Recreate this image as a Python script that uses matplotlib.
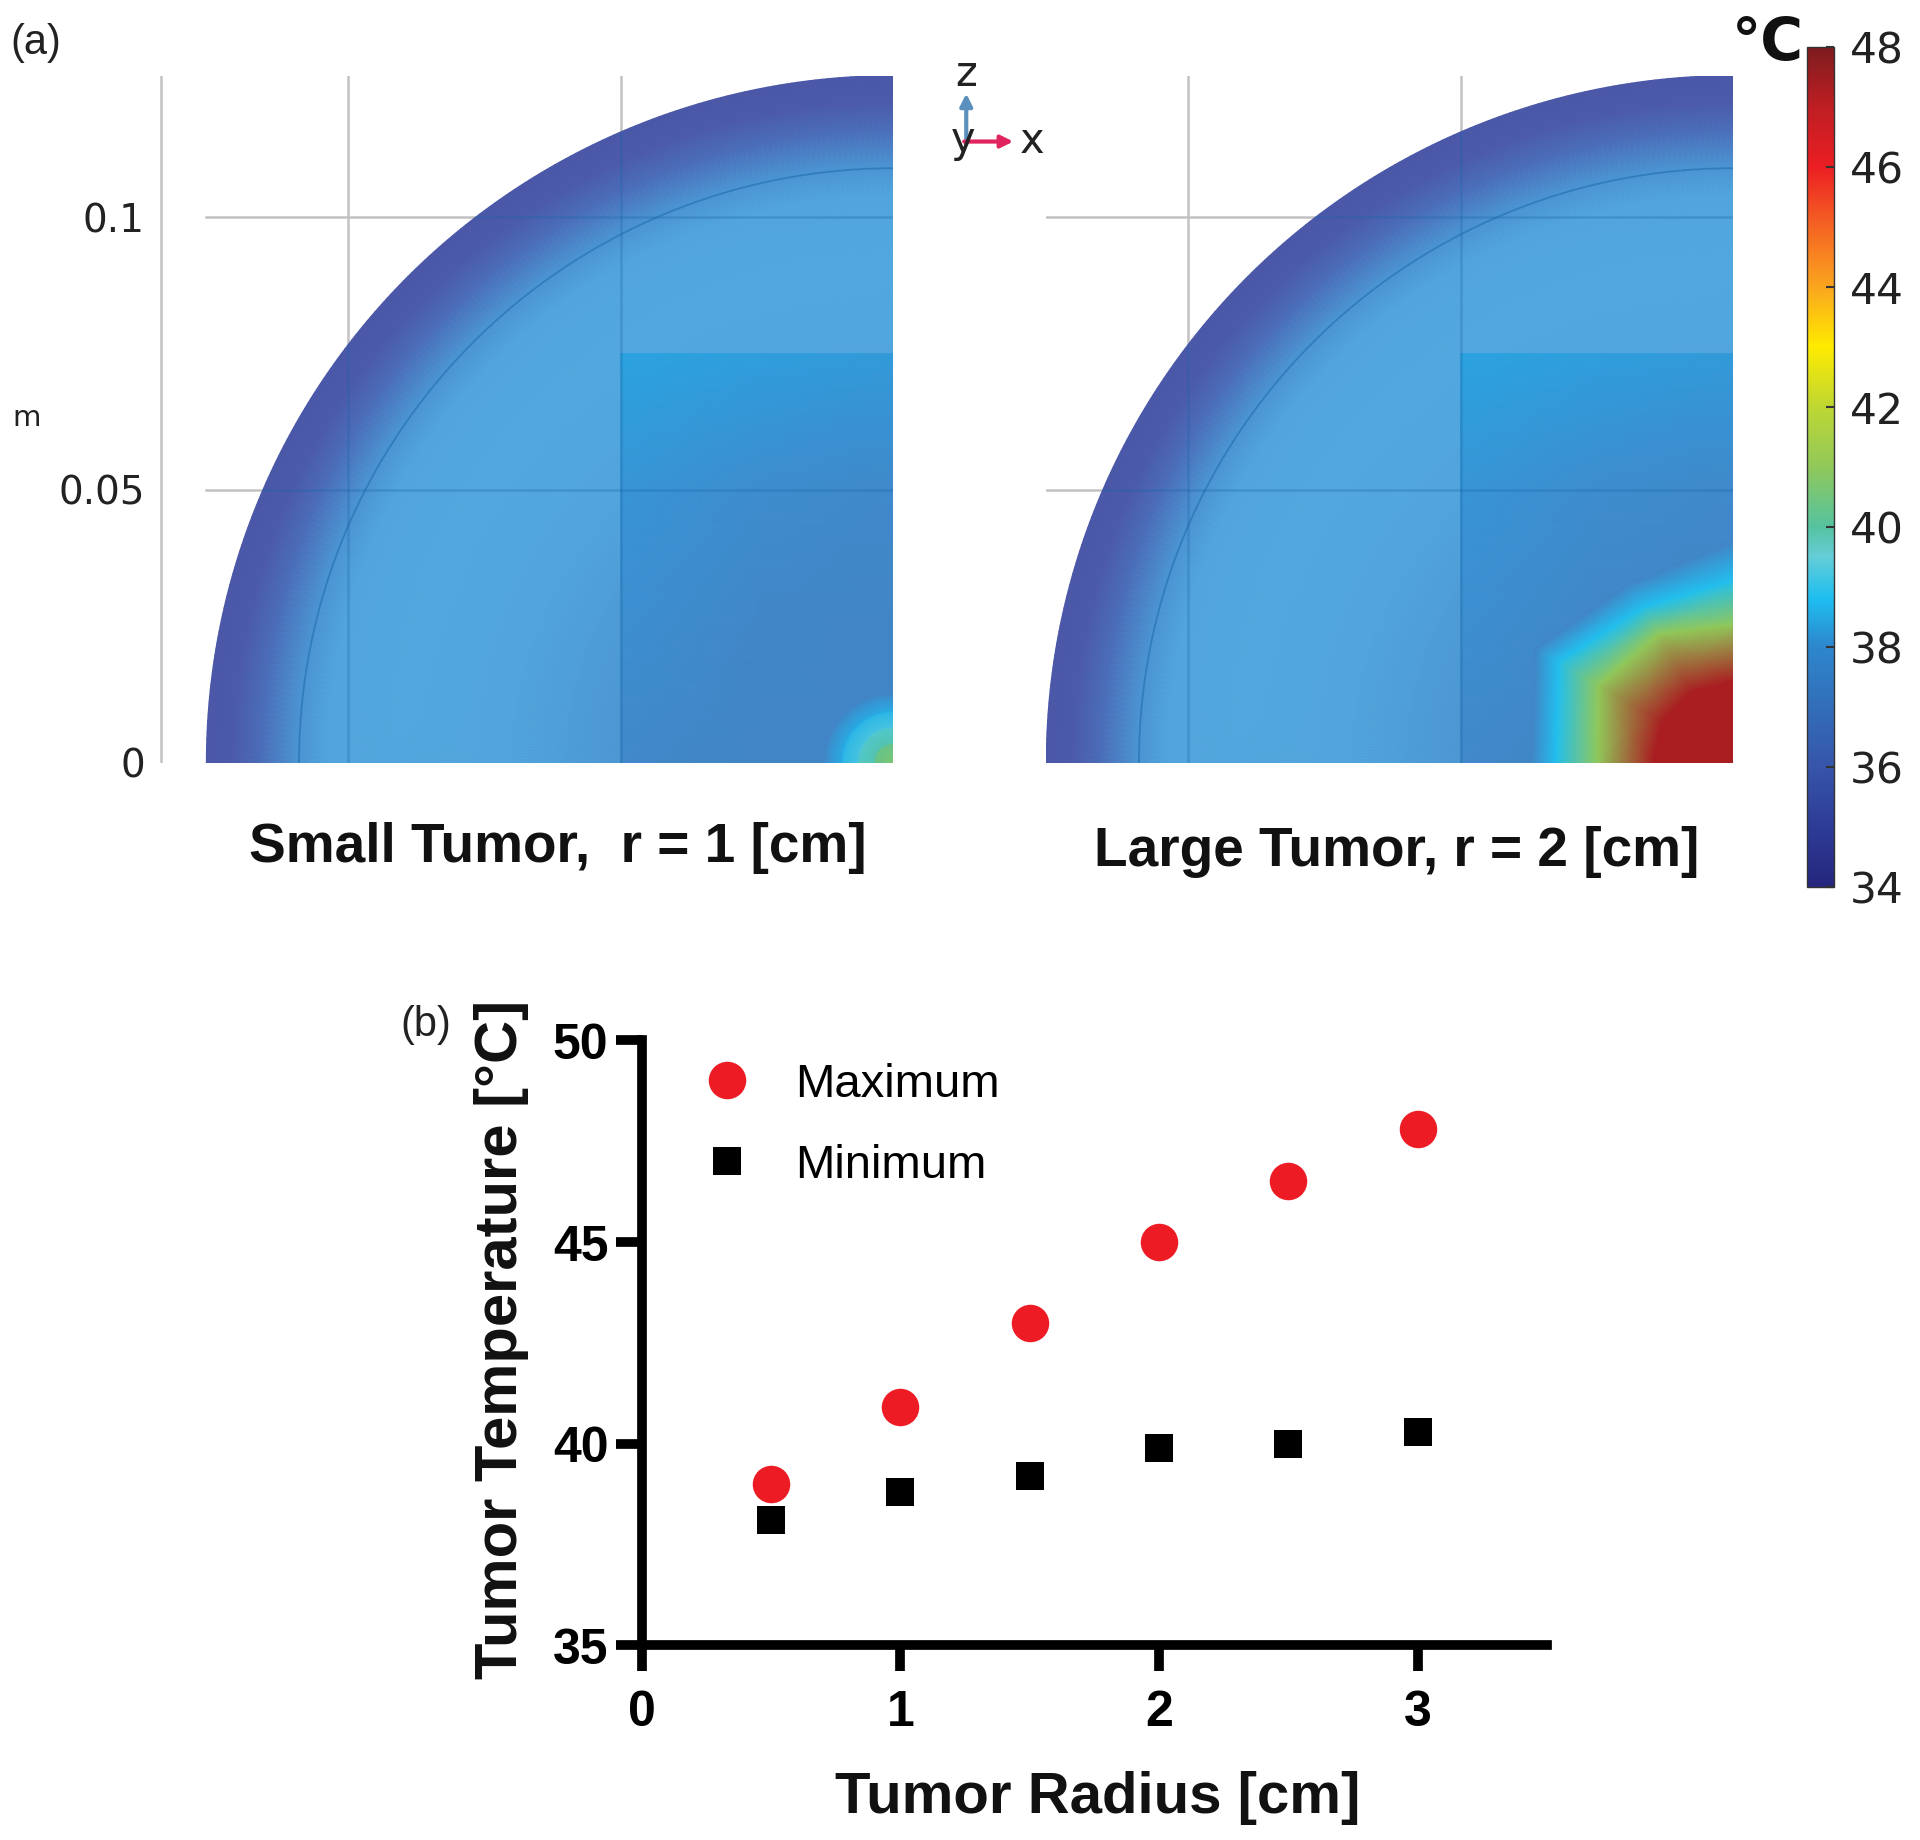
import numpy as np
import matplotlib
matplotlib.use("Agg")
import matplotlib.pyplot as plt
from matplotlib.colors import LinearSegmentedColormap, Normalize
from matplotlib.cm import ScalarMappable
from matplotlib.patches import Circle

W, H = 1920, 1840
SANS = "Liberation Sans"

# ---------- data: panel (b) ----------
tumor_radius = [0.5, 1.0, 1.5, 2.0, 2.5, 3.0]
t_maximum = [39.0, 40.9, 43.0, 45.0, 46.5, 47.8]
t_minimum = [38.1, 38.8, 39.2, 39.9, 40.0, 40.3]
b_xticks = [0, 1, 2, 3]
b_yticks = [35, 40, 45, 50]

# ---------- data: panel (a) temperature field ----------
sphere_r = 0.126
inner_r = 0.109
field_r = [0.0, 0.03, 0.05, 0.07, 0.09, 0.104, 0.110, 0.116, 0.121, 0.126]
field_T = [37.6, 37.7, 37.9, 38.3, 38.4, 38.3, 37.7, 36.6, 36.05, 35.95]

rect_x = [-0.05, -0.025, 0.0]
rect_z = [0.0, 0.025, 0.05, 0.075]
rect_T = [[37.6, 37.5, 37.5],
          [37.75, 37.55, 37.5],
          [37.95, 37.7, 37.6],
          [38.35, 38.25, 38.1]]

large_angle = [0, 30, 60, 90]
large_r = [[0.0, 0.0, 0.0, 0.0],
           [0.0147, 0.0150, 0.0150, 0.0149],
           [0.0248, 0.0285, 0.0272, 0.0253],
           [0.0325, 0.0370, 0.0330, 0.0335],
           [0.0370, 0.0420, 0.0380, 0.0405]]
large_T = [47.3, 47.3, 41.0, 38.85, 37.5]

small_r = [0.0, 0.0035, 0.0065, 0.0094, 0.0125]
small_T = [41.0, 40.0, 39.3, 38.6, 37.5]

cbar_ticks = [34, 36, 38, 40, 42, 44, 46, 48]

# ---------- colours ----------
bar_stops = [(34, (38, 38, 125)), (35, (45, 60, 150)), (36, (55, 85, 170)),
             (37, (50, 110, 185)), (38, (45, 135, 205)), (38.8, (30, 190, 240)),
             (39.5, (100, 205, 215)), (40, (85, 195, 160)), (41, (145, 200, 90)),
             (42, (190, 215, 50)), (43, (255, 235, 0)), (44, (250, 165, 30)),
             (45, (245, 100, 35)), (46, (235, 30, 35)), (47, (190, 30, 35)),
             (48, (125, 28, 30))]
field_stops = [(34, (60, 70, 150)), (35.95, (75, 88, 168)), (36.6, (75, 110, 185)),
               (37.7, (75, 145, 208)), (38.4, (82, 168, 222)), (48, (82, 168, 222))]
region_stops = [(34, (66, 133, 198)), (37.5, (66, 133, 198)), (37.8, (60, 145, 210)),
                (38.3, (45, 160, 222))] + bar_stops[5:]


def make_cmap(name, stops):
    return LinearSegmentedColormap.from_list(
        name, [((t - 34) / 14, tuple(v / 255 for v in c)) for t, c in stops], N=1024)


bar_cmap = make_cmap("bar", bar_stops)
field_cmap = make_cmap("field", field_stops)
region_cmap = make_cmap("region", region_stops)
norm = Normalize(34, 48)

fig = plt.figure(figsize=((W + 0.5) / 100, (H + 0.5) / 100), dpi=100, facecolor="white")


def px_axes(x0, y0, x1, y1, **kw):
    return fig.add_axes([x0 / W, 1 - y1 / H, (x1 - x0) / W, (y1 - y0) / H], **kw)


def ftext(x, y, s, **kw):
    return fig.text(x / W, 1 - y / H, s, **kw)


def panel(ax, vlines, tum_angle, tum_r, tum_T):
    theta = np.radians(np.linspace(0, 90, 181))
    r = np.array(field_r)
    ax.pcolormesh(-np.outer(np.cos(theta), r), np.outer(np.sin(theta), r),
                  np.tile(np.array(field_T), (theta.size, 1)),
                  shading="gouraud", cmap=field_cmap, norm=norm, zorder=1)
    ax.pcolormesh(*np.meshgrid(rect_x, rect_z), np.array(rect_T), shading="gouraud",
                  cmap=region_cmap, norm=norm, zorder=2)
    th = np.radians(tum_angle)
    R = np.array(tum_r)
    ax.pcolormesh(-R * np.cos(th), R * np.sin(th),
                  np.tile(np.array(tum_T)[:, None], (1, len(tum_angle))),
                  shading="gouraud", cmap=region_cmap, norm=norm, zorder=3)
    ax.plot(-inner_r * np.cos(theta), inner_r * np.sin(theta),
            color="#2a78b8", lw=1.3, alpha=0.8, zorder=4)
    clip = Circle((0, 0), sphere_r, transform=ax.transData)
    segs = [([v, v], [0, sphere_r]) for v in vlines] + \
           [([-sphere_r, 0], [h, h]) for h in (0.05, 0.1)]
    for xs, zs in segs:
        ax.plot(xs, zs, color="#c2c2c2", lw=1.8, zorder=0.5)
        ln, = ax.plot(xs, zs, color="#1a64a8", lw=1.8, alpha=0.3, zorder=5)
        ln.set_clip_path(clip)
    ax.set_ylim(0, sphere_r)
    ax.axis("off")


SCALE = 5450.0
fine_angle = np.linspace(0, 90, 46)
small_r2 = np.tile(np.array(small_r)[:, None], (1, fine_angle.size))

ax1 = px_axes(160, 76, 893, 763)
ax1.set_xlim(-733 / SCALE, 0)
panel(ax1, [-733 / SCALE + 0.0002, -0.1, -0.05], fine_angle, small_r2, small_T)
ax2 = px_axes(1045.7, 76, 1732.7, 763)
ax2.set_xlim(-687 / SCALE, 0)
panel(ax2, [-0.1, -0.05], large_angle, large_r, large_T)

for lab, v in zip(["0", "0.05", "0.1"], [0, 0.05, 0.1]):
    ax1.annotate(lab, xy=(-733 / SCALE, v), xytext=(-11, -2.5), textcoords="offset points",
                 ha="right", va="center", fontsize=28, family="DejaVu Sans",
                 color="#222222", annotation_clip=False)
ftext(27, 418, "m", fontsize=21, family="DejaVu Sans", ha="center", va="center", color="#222222")
ftext(10, 43, "(a)", fontsize=30, family=SANS, ha="left", va="center", color="#222222")
ftext(400, 1025, "(b)", fontsize=30, family=SANS, ha="left", va="center", color="#222222")

ftext(557.5, 848, "Small Tumor,  r = 1 [cm]", fontsize=39.6, family=SANS, weight="bold",
      ha="center", va="center", color="#111111")
ftext(1396, 852, "Large Tumor, r = 2 [cm]", fontsize=39.6, family=SANS, weight="bold",
      ha="center", va="center", color="#111111")

# axis triad
ov = px_axes(0, 0, W, H)
ov.set_xlim(0, W)
ov.set_ylim(H, 0)
ov.axis("off")
ov.patch.set_alpha(0)
ov.annotate("", xy=(966, 94), xytext=(966, 145),
            arrowprops=dict(arrowstyle="-|>", color="#5b8fbe", lw=3, mutation_scale=18, shrinkA=0, shrinkB=0))
ov.annotate("", xy=(1013, 142), xytext=(964, 142),
            arrowprops=dict(arrowstyle="-|>", color="#e0245e", lw=3, mutation_scale=18, shrinkA=0, shrinkB=0))
for s, x, y in [("z", 966, 74), ("y", 963, 140), ("x", 1032, 141)]:
    ov.text(x, y, s, fontsize=30, family="DejaVu Sans", ha="center", va="center", color="#222222")

# colour bar
cax = px_axes(1807, 47, 1834, 887)
cb = fig.colorbar(ScalarMappable(norm=norm, cmap=bar_cmap), cax=cax, ticks=cbar_ticks)
cb.outline.set_edgecolor("#333333")
cb.outline.set_linewidth(1.0)
cax.tick_params(axis="y", direction="in", length=6, width=1.5, color="#333333",
                pad=11, labelsize=30.5, labelcolor="#222222")
for t in cax.get_yticklabels():
    t.set_family("DejaVu Sans")
ftext(1767, 43, "°C", fontsize=42, family="DejaVu Sans", weight="bold",
      ha="center", va="center", color="#111111")

# panel (b)
axb = px_axes(641.6, 1040.5, 641.6 + 258.6 * 3.5, 1645.5)
axb.set_xlim(0, 3.5)
axb.set_ylim(35, 50)
axb.patch.set_alpha(0)
axb.plot(tumor_radius, t_maximum, "o", color="#ed1c24", ms=27, mew=0, label="Maximum", clip_on=False)
axb.plot(tumor_radius, t_minimum, "s", color="black", ms=19.5, mew=0, label="Minimum", clip_on=False)
for s in ("top", "right"):
    axb.spines[s].set_visible(False)
for s in ("left", "bottom"):
    axb.spines[s].set_linewidth(7)
axb.set_xticks(b_xticks)
axb.set_yticks(b_yticks)
axb.tick_params(length=19, width=7, labelsize=36)
axb.tick_params(axis="x", pad=13)
axb.tick_params(axis="y", pad=5)
for t in axb.get_xticklabels() + axb.get_yticklabels():
    t.set_family(SANS)
    t.set_weight("bold")
ftext(1097, 1798, "Tumor Radius [cm]", fontsize=41.9, family=SANS, weight="bold",
      ha="center", va="center", color="#111111")
ftext(501, 1339, "Tumor Temperature [°C]", fontsize=43, family=SANS, weight="bold",
      ha="center", va="center", rotation=90, color="#111111")
axb.legend(loc="upper left", bbox_to_anchor=(0.052, 0.963), frameon=False, numpoints=1,
           prop=dict(family=SANS, size=34), labelspacing=0.78, handletextpad=0.65,
           handlelength=1.6, borderaxespad=0, borderpad=0)

fig.savefig("out.png", dpi=100, facecolor="white")
